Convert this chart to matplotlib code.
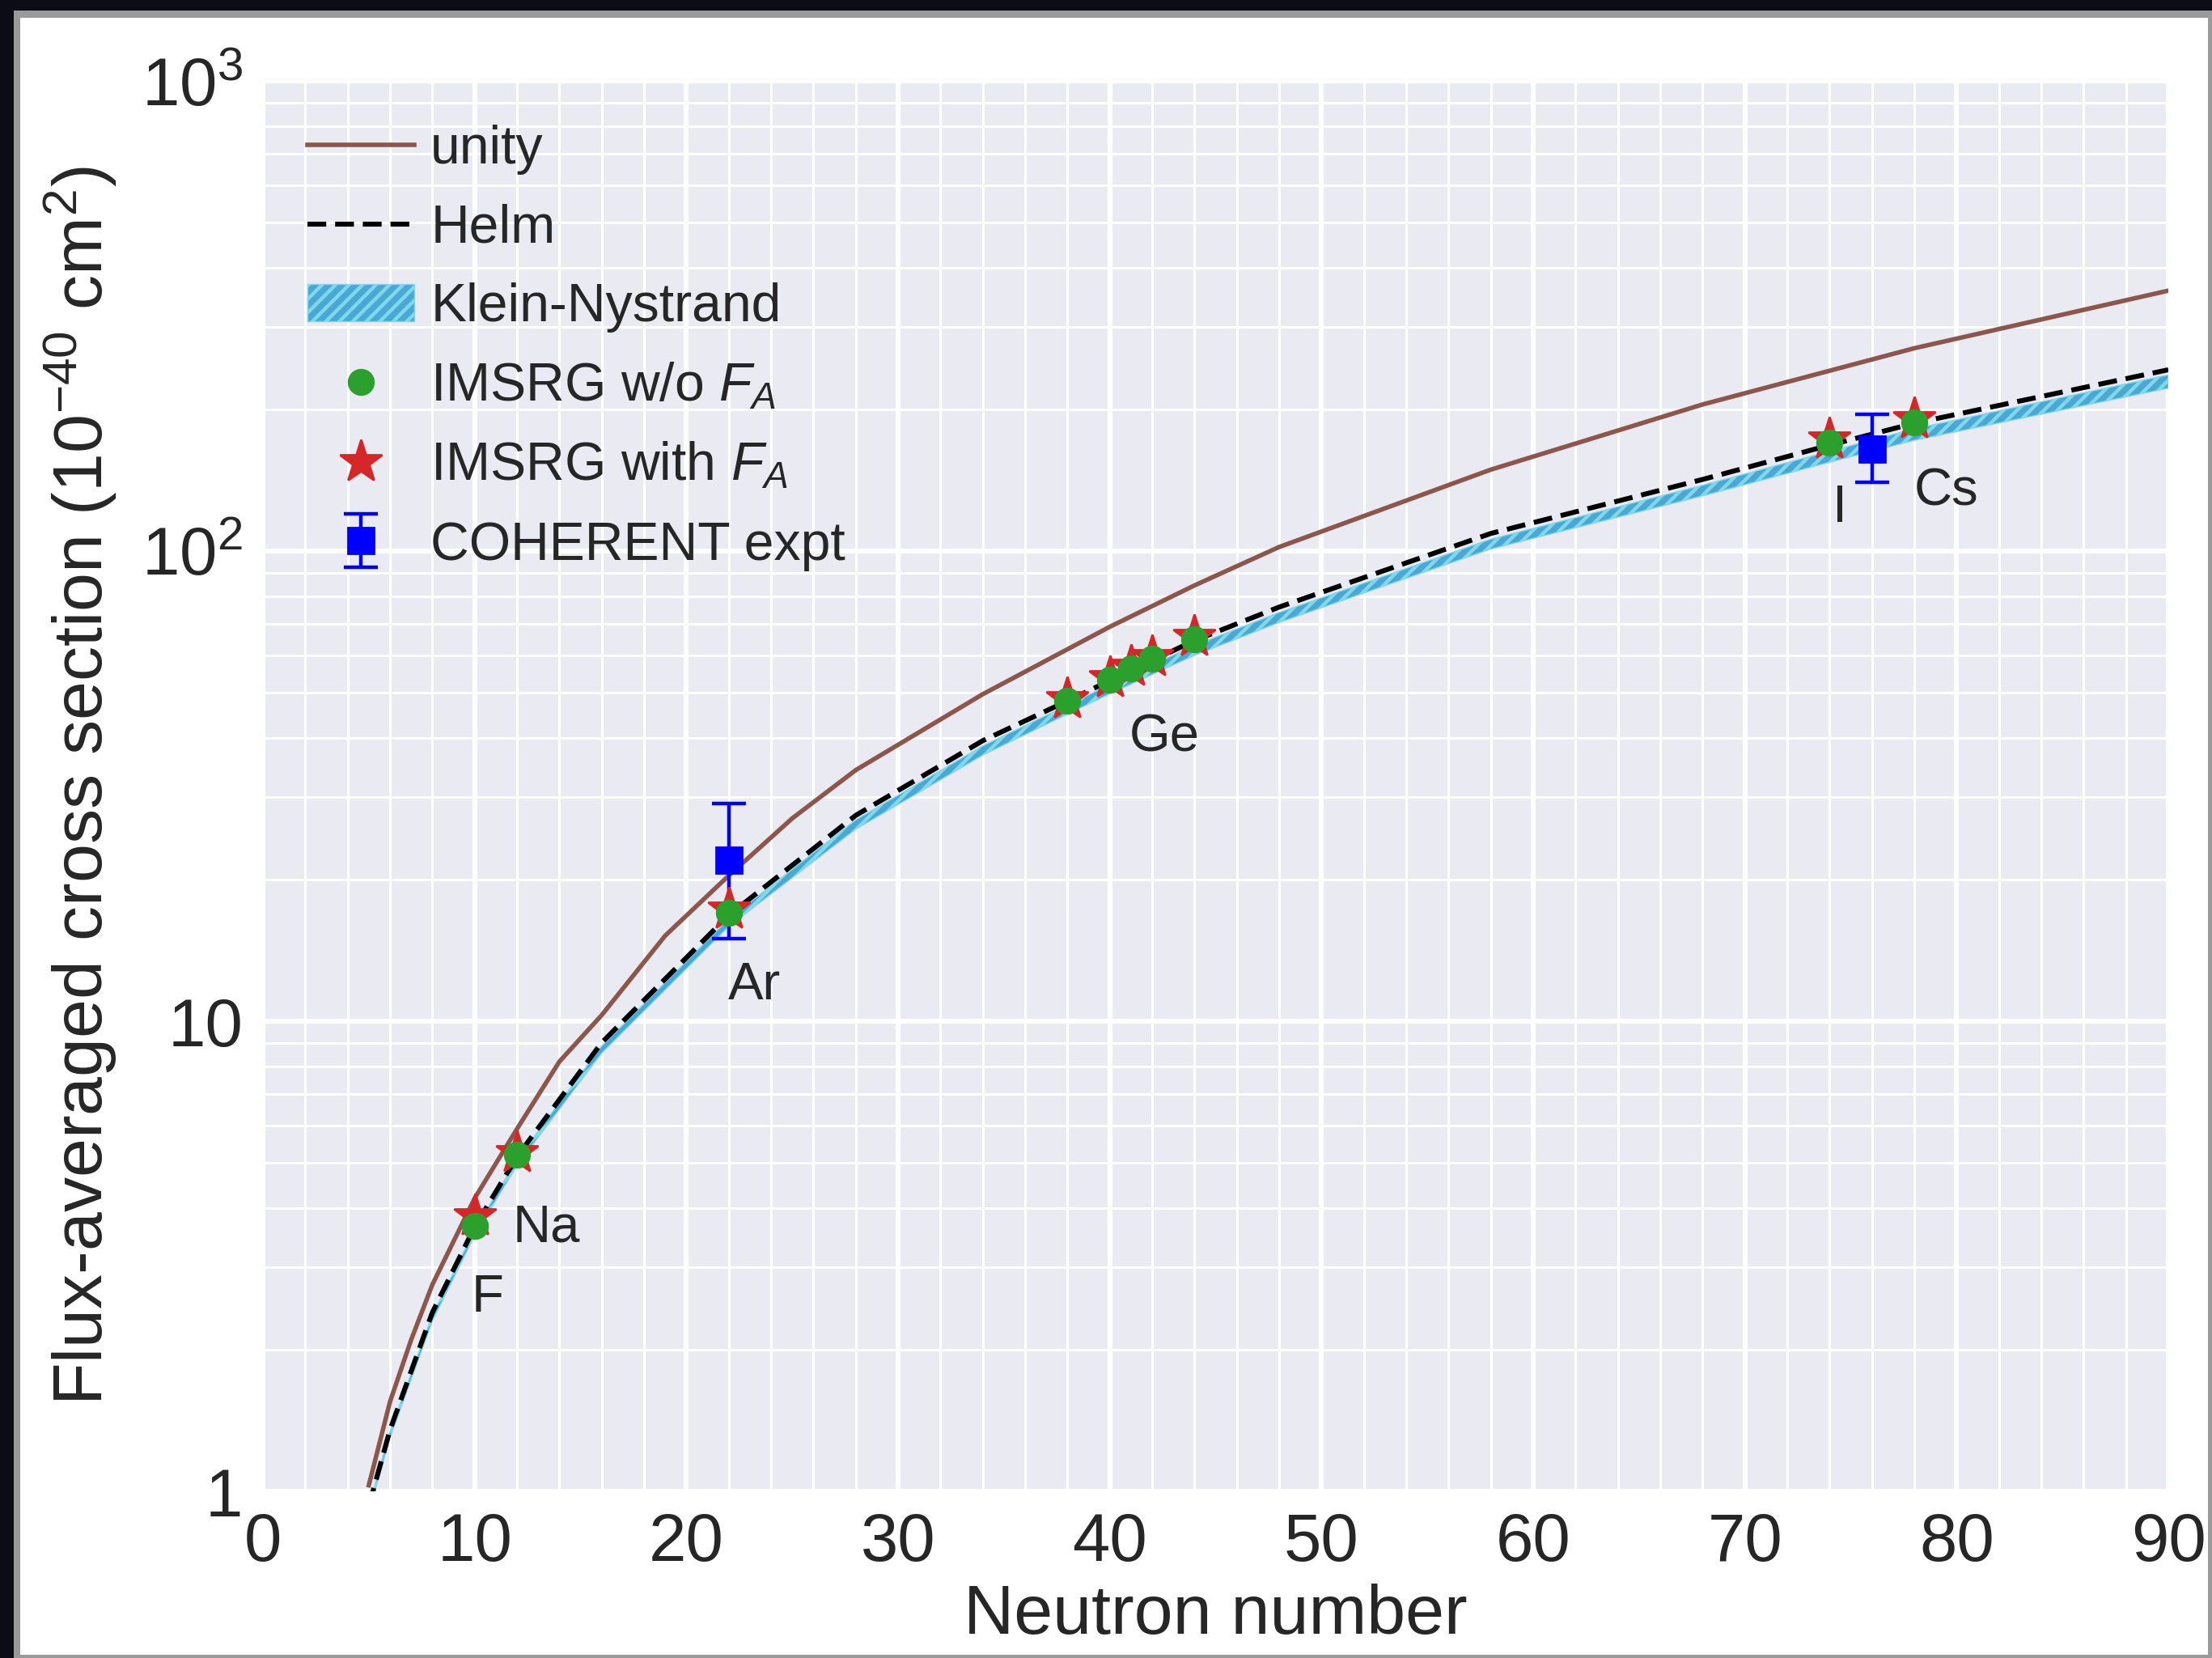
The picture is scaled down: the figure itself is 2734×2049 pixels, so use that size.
import numpy as np
import matplotlib
matplotlib.use("Agg")
import matplotlib.pyplot as plt
import matplotlib.ticker as ticker
from matplotlib.patches import Patch, Rectangle
from matplotlib.lines import Line2D

plt.rcParams['font.family'] = ['Liberation Sans', 'DejaVu Sans']
plt.rcParams['mathtext.fontset'] = 'custom'
plt.rcParams['mathtext.rm'] = 'Liberation Sans'
plt.rcParams['mathtext.it'] = 'Liberation Sans:italic'
plt.rcParams['mathtext.default'] = 'regular'
plt.rcParams['hatch.linewidth'] = 1.6

# --- data (cross sections in 1e-40 cm^2) ---
N_unity = [5, 6, 7, 8, 10, 12, 14, 16, 19, 22, 25, 28, 34, 40, 44, 48, 58, 68, 78, 90]
unity = [1.03, 1.55, 2.1, 2.75, 4.2, 5.9, 8.2, 10.3, 15.2, 20.4, 27.0, 34.2, 49.6, 69, 84.5, 102, 149, 205, 270, 358]

N_helm = [5, 6, 8, 10, 12, 16, 22, 28, 34, 38, 40, 44, 48, 58, 68, 74, 78, 90]
helm = [0.93, 1.35, 2.4, 3.65, 5.15, 9.0, 16.8, 27.4, 39.5, 48, 53, 64.5, 76, 109, 142, 168, 187, 243]
kn_hi = [0.93, 1.34, 2.37, 3.6, 5.08, 8.85, 16.5, 26.8, 38.5, 47, 52, 63, 74, 106, 138, 163, 182, 237]
kn_lo = [0.90, 1.30, 2.30, 3.5, 4.93, 8.55, 15.9, 25.6, 36.8, 45, 49.7, 60, 70.5, 101, 131, 154.5, 172, 222]

N_nuc = [10, 12, 22, 38, 40, 41, 42, 44, 74, 78]
imsrg_noFA = [3.67, 5.2, 17.0, 48, 53.2, 56.2, 59, 65, 170, 188]
imsrg_FA = [3.85, 5.25, 17.3, 48.5, 53.6, 56.8, 59.5, 65.8, 173, 191]

N_coh = [22, 76]
coh = [22, 165]
coh_lo = [7, 25]
coh_hi = [7, 30]

labels = ['F', 'Na', 'Ar', 'Ge', 'I', 'Cs']
label_N = [10.6, 13.4, 23.2, 42.6, 74.5, 79.5]
label_y = [2.58, 3.64, 11.9, 40.1, 123.6, 134]

# --- figure ---
fig = plt.figure(figsize=(13.67, 10.245), dpi=200)
fig.patch.set_facecolor('#0b0c16')
W, H = 2734.0, 2049.0
fig.patches.append(Rectangle((16.5 / W, 0), 1, (H - 12.5) / H, transform=fig.transFigure,
                             facecolor='#9a9a9a', edgecolor='none', zorder=-10))
fig.patches.append(Rectangle((24.5 / W, 4 / H), (W - 24.5 - 5) / W, (H - 22 - 4) / H,
                             transform=fig.transFigure, facecolor='white', edgecolor='none', zorder=-9))

ax = fig.add_axes([325 / W, 1 - 1843 / H, (2680 - 325) / W, (1843 - 100) / H])
ax.set_facecolor('#eaeaf2')
for s in ax.spines.values():
    s.set_visible(False)

brown = '#8c564b'
kn_face, kn_hatch = '#4aa8d4', '#80d8ea'
dash = (0, (3.8, 1.8))

ax.plot(N_unity, unity, color=brown, lw=2.0, zorder=2)
ax.fill_between(N_helm, kn_lo, kn_hi, facecolor=kn_face, edgecolor=kn_hatch,
                hatch='////', lw=0.5, zorder=2)
ax.plot(N_helm, helm, color='black', ls=dash, lw=2.2, zorder=3)
coh_err = ax.errorbar(N_coh, coh, yerr=[coh_lo, coh_hi], fmt='s', color='blue', ms=11.5,
                      elinewidth=1.6, capsize=7.5, capthick=1.6, zorder=3)
ax.plot(N_nuc, imsrg_FA, ls='none', marker='*', ms=20, color='#d62728', zorder=4)
ax.plot(N_nuc, imsrg_noFA, ls='none', marker='o', ms=11, color='#2ca02c', zorder=5)

for t, xn, yn in zip(labels, label_N, label_y):
    ax.text(xn, yn, t, fontsize=23.5, color='#262626', ha='center', va='center', zorder=6)

ax.set_yscale('log')
ax.set_xlim(0, 90)
ax.set_ylim(1, 1000)
ax.xaxis.set_major_locator(ticker.MultipleLocator(10))
ax.xaxis.set_minor_locator(ticker.MultipleLocator(2))
ax.yaxis.set_major_locator(ticker.FixedLocator([1, 10, 100, 1000]))
ax.yaxis.set_major_formatter(ticker.FixedFormatter(['1', '10', '$10^2$', '$10^3$']))
ax.yaxis.set_minor_locator(ticker.LogLocator(base=10, subs=np.arange(2, 10)))
ax.yaxis.set_minor_formatter(ticker.NullFormatter())
ax.grid(which='major', color='white', lw=2.2)
ax.grid(which='minor', color='white', lw=1.1)
ax.set_axisbelow(True)
ax.tick_params(which='both', length=0, labelsize=30, colors='#262626', pad=9)

ax.set_xlabel('Neutron number', fontsize=31, color='#262626', labelpad=4)
ax.set_ylabel('Flux-averaged cross section ($10^{-40}$ cm$^2$)', fontsize=31,
              color='#262626', labelpad=10)

handles = [
    Line2D([], [], color=brown, lw=2.0),
    Line2D([], [], color='black', ls=dash, lw=2.2),
    Patch(facecolor=kn_face, edgecolor=kn_hatch, hatch='////', lw=0.5),
    Line2D([], [], ls='none', marker='o', ms=11, color='#2ca02c'),
    Line2D([], [], ls='none', marker='*', ms=20, color='#d62728'),
    coh_err,
]
names = ['unity', 'Helm', 'Klein-Nystrand', 'IMSRG w/o $\\mathit{F}_{\\mathit{A}}$',
         'IMSRG with $\\mathit{F}_{\\mathit{A}}$', 'COHERENT expt']
leg = ax.legend(handles, names, loc='upper left', bbox_to_anchor=(0.0234, 0.969),
                frameon=False, fontsize=23.8, handlelength=2.0, handletextpad=0.3,
                labelspacing=0.54, borderpad=0, borderaxespad=0)
for t in leg.get_texts():
    t.set_color('#262626')

fig.savefig('out.png', dpi=200, facecolor=fig.get_facecolor())
